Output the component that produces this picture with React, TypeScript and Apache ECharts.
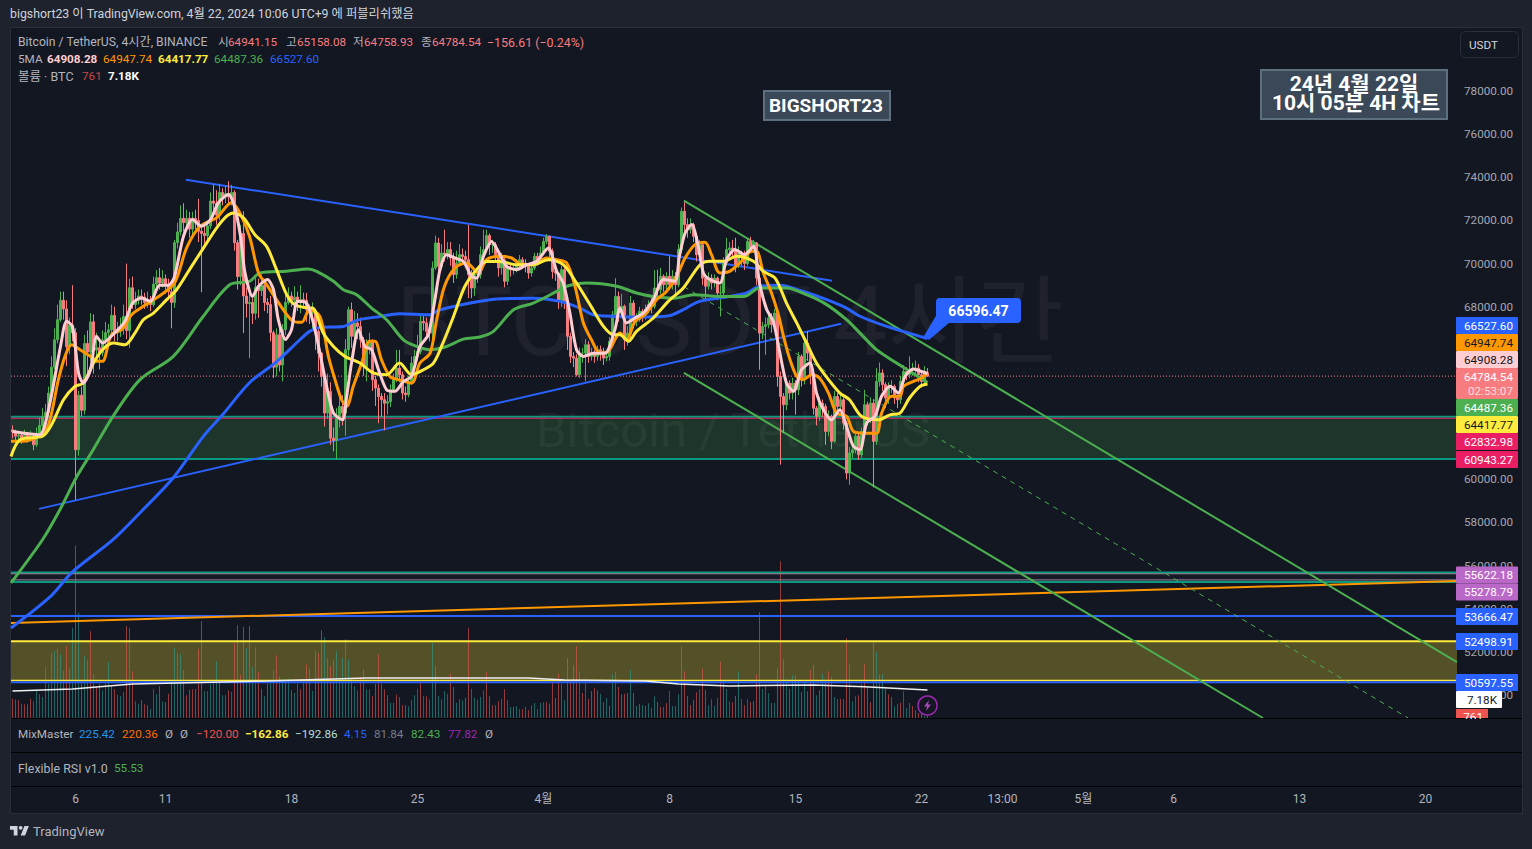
import React, { useEffect, useRef } from "react";
import * as echarts from "echarts";

const FONT = "Roboto, 'Noto Sans CJK KR', sans-serif";
const NUM_SIZE = 11.7;

const closes = [
  62200,62000,62050,61850,62050,61950,62000,61600,62100,62500,
  62900,63100,64000,65200,66470,67400,68300,67900,66150,67150,
  66800,61370,63900,63200,66300,65900,67300,66000,66100,65870,
  66470,66800,66930,67600,66800,66900,67000,67550,66900,68880,
  68100,68300,68500,68450,68200,68300,68100,69050,69350,69100,
  69300,69000,68700,68200,70970,71470,72100,71900,72100,71600,
  72100,72000,71500,71400,71300,71750,72900,72800,72250,73300,
  73100,73250,73100,73300,70970,69400,71400,68500,68150,68200,
  67700,68900,68750,69000,68200,68100,66800,65200,66700,65300,
  66950,68200,68500,68300,68450,68200,68330,68300,67860,67700,
  67710,66860,65850,64770,63070,64075,61910,61800,62840,63380,
  63070,66010,67860,66630,67250,67090,66470,65230,66160,66400,
  64620,64230,63840,63690,63530,63600,64150,64620,65160,64850,
  64000,63920,64540,65390,65700,65930,67320,67250,66860,66780,
  69800,70955,69875,70490,70415,70650,70260,69490,70030,70415,
  70330,70180,69490,68870,69490,69490,70415,70650,71300,70880,
  70880,70415,69800,70180,69180,69800,69720,69800,69950,70180,
  70030,69875,69565,69800,70340,70180,70490,71030,71265,70570,
  69640,69565,68250,69720,68170,66630,65700,65620,64850,65850,
  65850,66240,65700,65850,65700,66010,65930,65620,65700,66400,
  67630,68480,67710,68020,66470,66780,68170,67320,67400,67790,
  67630,67870,68100,68020,68870,68790,69410,69020,69410,69020,
  69410,69020,70650,72425,71810,71575,71810,71265,70415,70880,
  69330,68950,69330,69100,69330,68640,68640,70030,70650,70725,
  70650,69950,70490,70340,70000,71030,70725,70960,69330,66780,
  67090,67170,67480,67170,67710,64770,63845,63460,64460,64000,
  64460,64150,65700,64620,66320,65855,64850,63300,62920,63535,
  63380,62220,62920,61760,63845,63380,63690,62610,60290,61220,
  61370,62000,61140,62220,63460,62760,63535,61760,64540,64930,
  64390,63770,64310,64310,63770,63690,64540,65000,64850,65080,
  65080,65160,64850,64540,64941.15,64784.54,
];

const highs = [
  62500,62300,62250,62150,62300,62200,62250,62100,62400,62850,
  63300,63500,64300,65700,67000,68100,68700,68700,68300,67500,
  69000,67000,64100,64300,66700,66900,67700,67650,66800,66500,
  66900,67300,67200,68100,68000,67300,67500,68100,70000,69300,
  69400,68700,68800,68800,68650,68700,68500,69400,69700,69800,
  69700,69500,69300,69000,71100,71900,72700,72800,72500,72400,
  72400,72500,73000,71800,71800,72000,73300,73660,73400,73700,
  73500,73600,73820,73650,73400,71100,71800,72430,68900,68600,
  68400,69400,69300,69500,69300,68400,68500,66900,67000,67000,
  67200,68600,68900,68700,68950,68700,69000,68650,68640,68100,
  68200,67900,67000,65900,64900,64900,64500,62400,63300,63900,
  63900,66500,68000,68200,67800,67700,67500,66600,66500,66800,
  66500,64800,64400,64000,64000,63900,64400,64900,66000,66000,
  65000,64300,64800,65700,66000,66700,67700,67600,67500,67000,
  70100,71300,71200,70900,71575,71000,71000,70500,70600,70900,
  70700,70600,71800,69700,69800,69800,70800,71570,71570,71400,
  71100,71000,70500,70500,70300,70000,70000,70000,70200,70400,
  70300,70200,70000,70000,70500,70500,70800,71200,71370,71300,
  70700,69900,69600,69900,69800,68300,66800,65900,65800,66100,
  66100,66500,66400,66100,66000,66200,66200,66100,65900,66600,
  67800,69330,68700,68600,68100,67100,68500,68300,67700,68000,
  67900,68100,68300,68400,69700,69720,69800,69500,69600,70340,
  69700,69600,70900,72600,72840,72100,72100,71900,71400,71100,
  71000,69500,69600,69500,69500,69400,69000,70300,71190,71000,
  71100,71200,70800,70600,70600,71200,71240,71100,71000,69400,
  67300,67500,67700,67700,67900,67800,65000,64000,64700,64600,
  64700,64600,65900,65800,66500,66860,65950,65000,63400,63800,
  63700,63500,63200,63000,64100,64000,64000,63800,62700,61500,
  61600,62200,62100,62400,64150,63600,63800,63700,65160,65420,
  65100,64500,64500,64600,64400,63900,64800,65300,65200,65700,
  65400,65500,65350,65000,65250,65158.08,
];

const lows = [
  61900,61800,61700,61650,61800,61700,61750,61350,61500,62000,
  62400,62600,62900,63900,65100,66300,67300,67400,65250,65800,
  66400,59050,61100,62900,63000,64800,65500,64900,65400,65100,
  65700,66200,66500,66700,66400,66400,66600,66700,66500,66100,
  67900,67900,68100,68100,67900,67950,67800,68000,68900,68800,
  68900,68600,68300,67000,67950,70700,71300,71500,71600,71200,
  71300,71600,71000,68670,70900,70900,71600,72300,71800,72000,
  72700,72800,72700,72700,70600,68800,69000,66780,67500,65620,
  67200,67400,67480,68500,67800,67700,66400,64700,64770,65000,
  64540,66700,68100,68000,68000,67800,67700,67900,67300,67200,
  66900,66000,65000,64300,62450,62800,61600,61300,60940,62400,
  62500,62020,65700,66100,66400,66500,66100,64800,64540,65800,
  64100,63400,62600,62900,62270,63000,63350,64000,64500,64500,
  63700,63600,63800,64400,65200,65500,65800,66900,66500,66400,
  66500,69700,69600,69700,70100,70200,69900,69100,69300,69900,
  70000,69900,68400,68400,68500,69100,69300,70300,70500,70400,
  70500,70100,69400,69500,68900,69000,69400,69500,69600,69800,
  69800,69600,69300,69400,69700,69900,70000,70400,70900,70300,
  69300,69200,67900,68000,67900,66000,65400,65200,64770,64700,
  65400,64540,65400,65500,65400,65500,65500,65300,65470,65500,
  66200,67500,67300,67500,66000,66200,66400,67000,67100,67300,
  67300,67400,67700,67700,67900,68400,68600,68700,68800,68800,
  68800,68600,68900,70500,71500,71200,71400,71000,70100,70300,
  69000,68250,68800,68800,68900,68300,67550,68400,69900,70400,
  70300,69600,69800,69900,69700,69900,70500,70500,69000,65080,
  66500,65770,67000,66800,67000,64300,60680,62140,63200,63700,
  63700,63000,63900,64300,64400,65500,64400,63000,62500,62700,
  62900,61600,62000,61400,61700,63000,63200,62300,60000,59750,
  61000,61200,60900,61000,62100,62500,62600,59630,61600,64300,
  64100,63300,63500,64000,63500,63300,63500,64400,64600,64700,
  64800,64800,64500,64250,64400,64758.93,
];

const firstOpen = 62300;

const volumes = [
  4950,4690,4520,3670,3500,3500,4950,4270,7080,6060,
  5370,13050,8790,16630,17150,17740,16290,12030,18340,12620,
  23120,44190,26960,9810,15780,14760,22180,11170,7930,8790,
  7080,8790,14250,8360,7340,5970,5630,6650,23460,23120,
  11940,4270,3670,4520,3500,3240,2300,7510,6060,8100,
  4270,4100,6230,9640,18000,16640,16300,12200,5800,7250,
  7340,7510,17750,24750,6830,6830,8790,9810,14500,8960,
  5800,5800,7080,6660,19200,23720,11090,23300,17920,23470,
  13060,18090,11780,7510,5550,8790,9640,12200,16040,10670,
  10070,9220,10070,7080,6400,8790,7340,9640,13740,12630,
  6910,17070,16640,22440,20740,15360,13230,14760,17070,9640,
  15440,20140,15020,10070,8190,7080,10500,12460,7340,7340,
  5550,8790,16300,8790,7340,5800,3930,3930,5970,5380,
  3240,3240,2990,4690,5800,7510,9220,5550,5550,4780,
  19200,13400,5550,4780,6910,6230,11350,7940,3930,4780,
  4520,5200,23120,7510,5200,4690,5380,7080,11780,5550,
  3240,3240,4270,4950,7340,4520,2820,2820,3070,2300,
  2220,2820,1960,3240,3840,2300,3840,4010,4010,3670,
  9810,5120,11350,8790,4520,15360,9640,13480,18350,11950,
  6400,9640,4860,6910,7680,7080,6230,4010,5120,3160,
  11180,11780,7940,6060,6230,6400,12200,6400,3070,3580,
  3330,3070,3750,2560,5550,4100,2820,2820,3840,6910,
  3070,3070,6060,18350,11950,5630,3240,4690,6570,7340,
  12630,7080,3240,4780,3070,5120,14340,9640,7420,4270,
  4010,5630,11950,4860,3240,4780,4100,4270,11180,27050,
  7420,8100,6400,3840,3840,12710,40100,15020,10070,7510,
  10920,10920,9640,6660,9220,6830,12370,13650,5800,7080,
  11350,9810,11950,10500,5380,4860,4950,4780,20390,13740,
  4270,5550,5800,8790,13740,7940,4010,19630,16900,11180,
  11180,7510,6060,5380,2990,3500,3930,6830,2560,3840,
  3070,1960,1280,1110,430,761,
];

const volumeSides =
  "rrrgrrrggg" + "gggggggrrr" + "grgrggrgrr" + "gggrrgggrg" + "rggrrrgggr" +
  "grrrgggrrr" + "rrrrgggggr" + "ggrgrrrrgr" + "ggrrgrggrr" + "grgrggrgrr" +
  "grrrggrrgr" + "gggrggrrgg" + "rrrrrrggrg" + "rrggggrgrg" + "grggggrrgg" +
  "grrgggggrr" + "rrrgrggrgg" + "rrrgggggrr" + "rrrggrrrrg" + "rgrrrrgrgr" +
  "ggrrrrgrgr" + "grgggrrgrg" + "gggrrrrrrg" + "rrggggrrgg" + "rrggrgrrrr" +
  "gggrgrrrgr" + "grgrgrrrgr" + "grrgggrrrg" + "ggrgrrrrgg" + "grrrggrggg" +
  "rrrrgr";

const volumeAverage = [
  [0,6900],[20,7400],[40,8700],[85,9470],[118,10240],[156,10240],[172,10240],[184,9730],
  [211,9470],[222,8700],[239,8190],[267,8450],[284,8000],[305,7180],
];

const ma5 = [
  [0,62220],[9,62070],[12,63230],[16,66160],[18,67330],[20,67090],[22,64930],[23.6,64460],[26,65080],[28,66630],
  [30,66320],[34,66780],[37.5,67330],[40,68170],[43,68410],[46,68250],[49,69000],[52,69000],[54,69400],[57,71270],
  [60,72040],[63,71730],[66,72040],[68.6,72820],[72,73200],[74,72660],[76,71270],[77.5,69570],[80,68480],[82,68950],
  [85,69260],[87,68790],[88.6,67400],[91,66480],[93,66940],[95,68250],[98,68170],[100,67400],[102.5,65850],[104.7,64310],
  [107,63070],[110,62760],[111.4,63850],[113,65390],[115.3,66940],[117.5,66160],[119.7,66010],[122,65080],[124.7,64150],[127.5,64080],
  [130.3,64540],[133,64770],[135.8,66160],[138.6,66700],[140.8,68330],[142.5,69720],[144.7,70415],[147.5,70260],[150.3,70100],[153,69410],
  [154.7,69330],[157,70340],[159.7,71030],[162.5,70415],[164.7,69875],[168,69720],[171.4,69950],[174.7,70100],[178.6,70720],[181.4,69640],
  [183.6,69100],[185.8,67710],[188,66010],[190.3,65700],[193.6,65850],[197.5,65850],[200.8,66940],[202.5,67940],[204.7,67250],[207.5,67480],
  [210.3,67710],[213.6,68330],[217,69260],[220.8,69180],[222.3,70340],[224.2,71420],[226.4,71810],[228.6,70800],[230.3,69570],[232.5,69260],
  [235.8,69100],[238,70180],[240.8,70650],[244,70415],[247,70800],[249,69100],[251.4,67870],[253.6,67320],[255.8,65850],[258,64460],
  [260.3,64080],[263,65080],[265.8,65390],[268,64000],[270.3,63230],[273,62760],[275.8,63230],[278,62450],[280.3,61530],[282.5,61370],
  [284.7,62610],[287.5,62920],[289.7,63850],[292.5,64310],[295.3,64000],[297.5,64770],[300.3,65110],[303,65000],[305,64908.28],
];

const ma20 = [
  [-0.5,61760],[3,61760],[9,62020],[12,62530],[15.3,64620],[17.5,65700],[19.7,66240],[22.5,66010],[26,65700],[28.6,65470],
  [30,65470],[33,66710],[36.4,66940],[39.7,67630],[43.6,68020],[48,68410],[54,69100],[58,70720],[62.5,71730],[68,72120],
  [73,72820],[75.8,72350],[79,71270],[82,69570],[84.7,69030],[88,68330],[91.4,67640],[93.6,67330],[96.4,67280],[99,67860],
  [102.5,67550],[105.3,65700],[107.5,64620],[109.7,63690],[111.4,63380],[113.6,64310],[116.4,65390],[119,66400],[120.8,66400],[123,65540],
  [125.8,64770],[128.6,64620],[133,64460],[135.8,65390],[139.2,65850],[141.4,67400],[144,68950],[147.5,69800],[151.4,70030],[155.3,69560],
  [158,70180],[162.5,70340],[166.4,70260],[169.7,69950],[173.6,69950],[178,70260],[181.4,70180],[184.7,70030],[187.5,68950],[190.3,67250],
  [193,66470],[195.8,65850],[198.6,65930],[201.4,66630],[202.5,66780],[204.7,66470],[207.5,67320],[210.8,67630],[214.7,68330],[218,68710],
  [221.4,69410],[224.2,70260],[227.5,70880],[230.8,70990],[233,70415],[235.8,69570],[239,69640],[243,70110],[246.4,70570],[248,70570],
  [250.3,69570],[253,68640],[255.3,67630],[257,66630],[259,65620],[261.4,64770],[263.6,64620],[266.4,64850],[269,64700],[272,64000],
  [274.7,63070],[278,62920],[280.3,62220],[283.6,62140],[288,62140],[289.7,63070],[293,63850],[295.8,63850],[297,64310],[300.3,64540],
  [303,64700],[305,64947.74],
];

const ma50 = [
  [-0.5,61060],[2.5,61840],[10,62000],[13,62530],[17,63690],[20.8,64310],[23.6,64460],[27,65390],[30,66010],[33.6,66320],
  [37.5,66240],[40.8,66780],[43.6,67400],[47,67710],[51.4,68330],[54.7,68790],[59,69720],[64,70800],[68,71650],[71.4,72200],
  [73.6,72350],[77,72120],[80.8,71340],[84.7,70800],[88,69720],[91.4,68560],[94,68100],[98,67950],[100,67940],[103.6,66780],
  [107,66160],[110.8,65700],[115.8,65390],[120.3,64930],[124.7,64850],[129,65390],[133,64850],[137,65080],[140.3,65390],[143,66160],
  [147,67550],[150.8,68950],[154.7,69720],[158,70100],[162.5,70100],[168,69950],[173.6,69950],[178.6,70180],[183.6,69950],[188,69100],
  [192.5,68100],[197,67090],[200.3,66700],[202.5,66700],[205.3,66400],[208,66860],[213.6,67480],[218.6,68250],[223.6,68870],[229.2,69950],
  [232.5,70110],[237,70110],[241.4,70340],[247,70110],[250.3,69640],[254.2,69330],[258,68170],[261.4,67250],[264.7,66320],[268,65390],
  [272,64620],[275.8,64000],[279,63690],[283,62920],[288.6,62760],[292.5,62990],[295.8,63070],[299,63770],[302.5,64310],[305,64417.77],
];

const ma100 = [
  [-0.5,55200],[10,57200],[15.8,58590],[21.4,60120],[26.9,61370],[33.5,62920],[42.5,64620],[53.6,65700],[63.6,67560],[72.5,69030],
  [79,69180],[82.5,69570],[91.4,69650],[98.6,69750],[101.4,69640],[107,69180],[110.3,68790],[114.7,68560],[119.7,67940],[124.7,67400],
  [130.3,66470],[134.7,66160],[139,66010],[144.7,66160],[150.3,66500],[155.8,66600],[160.3,66860],[167,67860],[173.6,68170],[181.4,68710],
  [184.7,68950],[191.4,69100],[201.4,68950],[208,68640],[213.6,68480],[220.8,68400],[227,68560],[235.8,68480],[244,68480],[249,68870],
  [258,68870],[264.7,68560],[271.4,68100],[278,67400],[282.5,66780],[288,66010],[294.7,65390],[299.2,65000],[305,64487.36],
];

const ma200 = [
  [-0.5,53110],[12.5,54550],[20,55710],[33.5,57200],[43.5,58590],[53.6,60070],[63.5,61970],[70,62990],[79,64480],[88,65450],
  [95.8,66470],[99,66860],[102.5,67045],[110.3,67090],[114.7,67370],[122.5,67550],[129,67680],[139,67630],[142.5,67860],[151.4,68140],
  [161.4,68360],[173.6,68400],[182.5,68250],[189.2,67940],[193.6,67630],[201.4,67550],[209,67520],[219,67590],[223.6,67870],[229,68250],
  [239,68480],[244.7,68640],[249,68950],[255.8,69000],[263.6,68710],[271.4,68330],[278,67940],[282.5,67560],[291.4,67090],[302.5,66630],[305,66527.6],
];

const blueUpperTrend = [[57.8,73890],[273.2,69210]];
const blueLowerTrend = [[8.83,58630],[276.2,67210]];
const orangeTrend = [[-0.5,53340],[481.5,55290]];
const channelUpper = [[223.8,72920],[481.5,51530]];
const channelLower = [[223.8,64940],[416.8,48936]];
const channelMiddle = [[223.8,68930],[465.2,48936]];

const priceTicks = [50000,52000,54000,56000,58000,60000,68000,70000,72000,74000,76000,78000];
const timeIndexes = [21,51,93,135,177,219,261,303,330,357,387,429,471];
const timeLabels = ["6","11","18","25","4월","8","15","22","13:00","5월","6","13","20"];
const CATEGORY_COUNT = 482;
const LAST_PRICE = 64784.54;

const tags: [string, number, string, string][] = [
  ["66527.60", 325.5, "#2962ff", "#ffffff"],
  ["64947.74", 342.5, "#ff9800", "#131722"],
  ["64908.28", 359.5, "#ffcdd2", "#131722"],
  ["64487.36", 407.5, "#4caf50", "#ffffff"],
  ["64417.77", 424.5, "#ffeb3b", "#131722"],
  ["62832.98", 441.5, "#e91e63", "#ffffff"],
  ["60943.27", 459.5, "#e91e63", "#ffffff"],
  ["55622.18", 575, "#ba68c8", "#ffffff"],
  ["55278.79", 592, "#ba68c8", "#ffffff"],
  ["53666.47", 616.5, "#2962ff", "#ffffff"],
  ["52498.91", 641.5, "#2962ff", "#ffffff"],
  ["50597.55", 682.5, "#2962ff", "#ffffff"],
];

type Seg = [string, number, number, string, string?, number?];
const headerTexts: Seg[] = [
  ["bigshort23 이 TradingView.com, 4월 22, 2024 10:06 UTC+9 에 퍼블리쉬했음", 10, 14, "#d1d4dc", "normal", 12.3],
  ["Bitcoin / TetherUS, 4시간, BINANCE", 18, 42, "#b2b5be", "normal", 12.2],
  ["시", 218, 42, "#b2b5be"], ["64941.15", 228, 42, "#f77c80"],
  ["고", 286, 42, "#b2b5be"], ["65158.08", 297, 42, "#f77c80"],
  ["저", 353, 42, "#b2b5be"], ["64758.93", 364, 42, "#f77c80"],
  ["종", 421, 42, "#b2b5be"], ["64784.54", 432, 42, "#f77c80"],
  ["−156.61 (−0.24%)", 487, 42, "#f77c80", "normal", 12.4],
  ["5MA", 18, 59, "#b2b5be"],
  ["64908.28", 47, 59, "#ffcdd2", "bold"], ["64947.74", 103, 59, "#ff9800"],
  ["64417.77", 158, 59, "#ffeb3b", "bold"], ["64487.36", 214, 59, "#4caf50"],
  ["66527.60", 270, 59, "#2962ff"],
  ["볼륨 · BTC", 18, 76, "#b2b5be", "normal", 12.5], ["761", 82, 76, "#c44a4a"], ["7.18K", 108, 76, "#ffffff", "bold"],
  ["MixMaster", 18, 734, "#b2b5be"], ["225.42", 79, 734, "#2196f3"], ["220.36", 122, 734, "#ff6d00"],
  ["Ø", 165, 734, "#b2b5be"], ["Ø", 180, 734, "#b2b5be"], ["−120.00", 196, 734, "#ef5350"],
  ["−162.86", 245, 734, "#ffeb3b", "bold"], ["−192.86", 295, 734, "#b2dfdb"], ["4.15", 344, 734, "#2962ff"],
  ["81.84", 374, 734, "#787b86"], ["82.43", 411, 734, "#4caf50"], ["77.82", 448, 734, "#9c27b0"],
  ["Ø", 485, 734, "#b2b5be"],
  ["Flexible RSI v1.0", 18, 768, "#b2b5be", "normal", 12.4], ["55.53", 114, 768, "#4caf50"],
];

const UP = "#4caf50";
const DOWN = "#f77c80";
const BLUE = "#2962ff";

function lineSeries(name: string, data: number[][], color: string, width: number, extra: any = {}) {
  return {
    type: "line", name, data, xAxisIndex: 1, yAxisIndex: extra.yAxisIndex ?? 0, symbol: "none", silent: true,
    lineStyle: { color, width, ...(extra.lineStyle || {}) },
    smooth: extra.smooth ?? false,
    z: extra.z ?? 5,
    ...(extra.markArea ? { markArea: extra.markArea } : {}),
  };
}

function level(name: string, value: number, color: string, width: number, extra: any = {}) {
  return lineSeries(name, [[-0.5, value], [481.5, value]], color, width, { z: 3, ...extra });
}

function txt(text: string, x: number, y: number, fill: string, o: any = {}) {
  return {
    type: "text", z: o.z ?? 40, silent: true,
    style: {
      text, x, y, fill, fontSize: o.size ?? NUM_SIZE, fontFamily: FONT, fontWeight: o.weight ?? "normal",
      align: o.align ?? "left", verticalAlign: "middle",
    },
  };
}

export default function App() {
  const ref = useRef<HTMLDivElement>(null);
  useEffect(() => {
    document.body.style.margin = "0";
    echarts.graphic.registerShape(
      "tvlogo",
      echarts.graphic.extendPath(
        "M14 6H2v6h6v9h6V6Zm12 15h-7l6-15h7l-6 15Zm-7-9a3 3 0 1 0 0-6 3 3 0 0 0 0 6Z",
        {}
      )
    );
    const chart = echarts.init(ref.current!, undefined, { renderer: "svg" });

    const categories = Array.from({ length: CATEGORY_COUNT }, () => "");
    timeIndexes.forEach((idx, k) => { categories[idx] = timeLabels[k]; });

    const candles = closes.map((c, i) => {
      const o = i === 0 ? firstOpen : closes[i - 1];
      return [o, c, lows[i], highs[i]];
    });
    const volumeBars = volumes.map((v, i) => ({
      value: v,
      itemStyle: { color: volumeSides[i] === "g" ? "rgba(38,166,154,0.55)" : "rgba(239,83,80,0.6)" },
    }));

    const graphicEls: any[] = [
      { type: "rect", z: 0, silent: true, shape: { x: 10.5, y: 27.5, width: 1512, height: 786 }, style: { fill: "#131722", stroke: "#2a2e39", lineWidth: 1 } },
      txt("BTCUSDT 4시간", 730, 322, "rgba(255,255,255,0.05)", { size: 96, align: "center", z: 1 }),
      txt("Bitcoin / TetherUS", 733, 430, "rgba(255,255,255,0.05)", { size: 49, align: "center", z: 1 }),
      ...[718, 752, 786].map((y) => ({
        type: "line", z: 38, silent: true, shape: { x1: 11, y1: y + 0.5, x2: 1522, y2: y + 0.5 }, style: { stroke: "#000000", lineWidth: 1 },
      })),
      ...headerTexts.map(([t, x, y, c, w, s]) => txt(t, x, y, c, { weight: w, size: s })),
      { type: "rect", z: 40, silent: true, shape: { x: 1460.5, y: 31.5, width: 58, height: 26, r: 5 }, style: { fill: "#131722", stroke: "#2a2e39", lineWidth: 1 } },
      txt("USDT", 1469, 45, "#d1d4dc", { z: 41 }),
      { type: "rect", z: 40, silent: true, shape: { x: 1261, y: 70, width: 186, height: 49 }, style: { fill: "#3b4857", stroke: "#5d7080", lineWidth: 2 } },
      txt("24년 4월 22일", 1354, 84, "#ffffff", { size: 21, weight: "bold", align: "center", z: 41 }),
      txt("10시 05분 4H 차트", 1356, 103, "#ffffff", { size: 21, weight: "bold", align: "center", z: 41 }),
      { type: "rect", z: 40, silent: true, shape: { x: 764, y: 91, width: 126, height: 29 }, style: { fill: "#3b4857", stroke: "#5d7080", lineWidth: 2 } },
      txt("BIGSHORT23", 826, 105.5, "#ffffff", { size: 19, weight: "bold", align: "center", z: 41 }),
      { type: "polygon", z: 40, silent: true, shape: { points: [[924, 336], [929, 340], [950, 322], [937, 314]] }, style: { fill: BLUE } },
      { type: "rect", z: 40, silent: true, shape: { x: 936, y: 298, width: 85, height: 25, r: 4 }, style: { fill: BLUE } },
      txt("66596.47", 978.5, 310.5, "#ffffff", { size: 14, weight: "bold", align: "center", z: 41 }),
      { type: "circle", z: 40, silent: true, shape: { cx: 927.5, cy: 705.5, r: 9.5 }, style: { fill: "#131722", stroke: "#9c27b0", lineWidth: 1.5 } },
      { type: "polygon", z: 41, silent: true, shape: { points: [[929, 700], [924, 706.5], [927, 706.5], [926, 711], [931, 704.5], [928, 704.5]] }, style: { fill: "#ab47bc" } },
      ...tags.flatMap(([t, y, bg, fg]) => [
        { type: "rect", z: 40, silent: true, shape: { x: 1456, y: y - 8.5, width: 62, height: 17, r: 1 }, style: { fill: bg } },
        txt(t, 1513, y, fg, { align: "right", z: 41 }),
      ]),
      { type: "rect", z: 40, silent: true, shape: { x: 1456, y: 368, width: 62, height: 31, r: 1 }, style: { fill: DOWN } },
      txt("64784.54", 1513, 377, "#ffffff", { align: "right", z: 41 }),
      txt("02:53:07", 1513, 391, "rgba(255,255,255,0.75)", { align: "right", z: 41 }),
      { type: "rect", z: 40, silent: true, shape: { x: 1456, y: 691, width: 46, height: 17, r: 1 }, style: { fill: "#ffffff" } },
      txt("7.18K", 1497, 699.5, "#131722", { align: "right", z: 41 }),
      { type: "rect", z: 40, silent: true, shape: { x: 1456, y: 709, width: 32, height: 9 }, style: { fill: "#ef5350" } },
      txt("761", 1483, 716.5, "#ffffff", { align: "right", z: 41 }),
      { type: "rect", z: 42, silent: true, shape: { x: 1456, y: 719, width: 40, height: 12 }, style: { fill: "#131722" } },
      { type: "tvlogo", z: 40, silent: true, x: 8.7, y: 822.2, scaleX: 0.63, scaleY: 0.63, style: { fill: "#d1d4dc" } },
      txt("TradingView", 33, 831.5, "#b2b5be", { size: 13 }),
    ];

    chart.setOption({
      animation: false,
      backgroundColor: "#1e222d",
      graphic: { elements: graphicEls },
      grid: { left: 11, top: 28, width: 1446, height: 690, containLabel: false },
      xAxis: [
        {
          type: "category", data: categories, boundaryGap: true, position: "bottom",
          axisLine: { show: false }, axisTick: { show: false }, splitLine: { show: false },
          axisLabel: {
            interval: (_: number, v: string) => v !== "", margin: 75, hideOverlap: false,
            color: "#b2b5be", fontSize: 12, fontFamily: FONT, showMinLabel: true, showMaxLabel: true,
          },
        },
        { type: "value", min: -0.5, max: 481.5, show: false, position: "top", splitLine: { show: false } },
      ],
      yAxis: [
        {
          type: "value", position: "right", min: 48936, max: 80923, scale: true,
          axisLine: { show: false }, axisTick: { show: false }, splitLine: { show: false },
          axisLabel: {
            customValues: priceTicks, color: "#a3a6af", fontSize: NUM_SIZE, fontFamily: FONT, margin: 7,
            padding: [2, 0, 0, 0],
            formatter: (v: number) => v.toFixed(2),
          },
        },
        { type: "value", position: "left", min: 0, max: 176640, show: false, splitLine: { show: false } },
      ],
      series: [
        level("zone top", 62900, "#089981", 2, {
          markArea: {
            silent: true,
            itemStyle: { color: "rgba(76,175,80,0.2)" },
            data: [[{ yAxis: 62900 }, { yAxis: 60943.27 }]],
          },
        }),
        level("zone top inner", 62832.98, "#e91e63", 1),
        level("zone bottom", 60943.27, "#089981", 2),
        level("mid zone top", 55676, "#089981", 2, {
          markArea: {
            silent: true,
            itemStyle: { color: "rgba(186,104,200,0.03)" },
            data: [[{ yAxis: 55622.18 }, { yAxis: 55278.79 }]],
          },
        }),
        level("mid zone inner top", 55622.18, "#9a8a9c", 1),
        level("mid zone inner bottom", 55338, "#9a8a9c", 1),
        level("mid zone bottom", 55245, "#089981", 2),
        level("level 53666", 53666.47, BLUE, 2),
        level("yellow top", 52498.91, "#ffeb3b", 2, {
          markArea: {
            silent: true,
            itemStyle: { color: "rgba(255,235,59,0.28)" },
            data: [[{ yAxis: 52498.91 }, { yAxis: 50680 }]],
          },
        }),
        level("yellow bottom", 50680, "#ffeb3b", 1.5),
        level("blue bottom", 50597.55, BLUE, 2),
        {
          type: "bar", name: "volume", data: volumeBars, xAxisIndex: 0, yAxisIndex: 1,
          barWidth: 1, silent: true, z: 2,
        },
        lineSeries("volume average", volumeAverage, "#eeeeee", 1.5, { z: 3, yAxisIndex: 1 }),
        level("last price", LAST_PRICE, DOWN, 1, { lineStyle: { type: [1, 2] }, z: 3 }),
        lineSeries("orange trend", orangeTrend, "#ff9800", 2, { z: 4 }),
        lineSeries("blue upper trend", blueUpperTrend, BLUE, 2, { z: 4 }),
        lineSeries("blue lower trend", blueLowerTrend, BLUE, 2, { z: 4 }),
        lineSeries("channel upper", channelUpper, UP, 2, { z: 4 }),
        lineSeries("channel lower", channelLower, UP, 2, { z: 4 }),
        lineSeries("channel middle", channelMiddle, UP, 1, { z: 4, lineStyle: { type: [5, 5] } }),
        {
          type: "candlestick", name: "BTCUSDT", data: candles, xAxisIndex: 0, yAxisIndex: 0,
          barWidth: 2, silent: true, z: 5, clip: true,
          itemStyle: { color: UP, color0: DOWN, borderColor: UP, borderColor0: DOWN, borderWidth: 1 },
        },
        lineSeries("MA200", ma200, BLUE, 3, { smooth: 0.3, z: 6 }),
        lineSeries("MA100", ma100, UP, 3, { smooth: 0.3, z: 6 }),
        lineSeries("MA20", ma20, "#ff9800", 3, { smooth: 0.3, z: 7 }),
        lineSeries("MA50", ma50, "#ffeb3b", 3, { smooth: 0.3, z: 7 }),
        lineSeries("MA5", ma5, "#ffcdd2", 3, { smooth: 0.25, z: 8 }),
      ],
    });
    return () => chart.dispose();
  }, []);
  return <div ref={ref} style={{ position: "fixed", left: 0, top: 0, width: 1532, height: 849 }} />;
}
